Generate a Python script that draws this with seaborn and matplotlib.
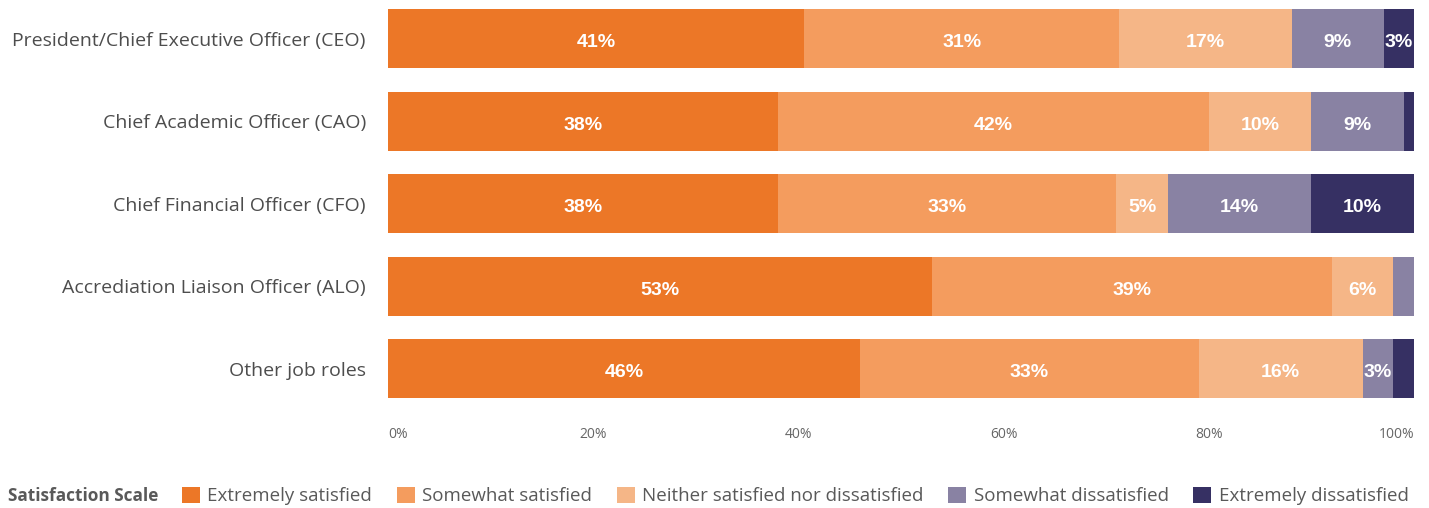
import numpy as np
import pandas as pd
import seaborn as sns
import matplotlib.pyplot as plt
from matplotlib.patches import Patch

roles = ["President/Chief Executive Officer (CEO)", "Chief Academic Officer (CAO)",
         "Chief Financial Officer (CFO)", "Accrediation Liaison Officer (ALO)",
         "Other job roles"]
levels = ["Extremely satisfied", "Somewhat satisfied",
          "Neither satisfied nor dissatisfied", "Somewhat dissatisfied",
          "Extremely dissatisfied"]
extremely_satisfied = [41, 38, 38, 53, 46]
somewhat_satisfied = [31, 42, 33, 39, 33]
neither = [17, 10, 5, 6, 16]
somewhat_dissatisfied = [9, 9, 14, 2, 3]
extremely_dissatisfied = [3, 1, 10, 0, 2]
colors = ["#EC7727", "#F49C5E", "#F5B687", "#8982A3", "#363063"]

df = pd.DataFrame({"Role": roles,
                   levels[0]: extremely_satisfied,
                   levels[1]: somewhat_satisfied,
                   levels[2]: neither,
                   levels[3]: somewhat_dissatisfied,
                   levels[4]: extremely_dissatisfied})
# bars fill the full width, so scale each row to 100
shares = df[levels].div(df[levels].sum(axis=1), axis=0) * 100
cum = shares.cumsum(axis=1)

sns.set_style("white")
plt.rcParams["font.family"] = ["Open Sans", "DejaVu Sans"]

fig = plt.figure(figsize=(14.29, 5.08), dpi=100)
ax = fig.add_axes([388 / 1429, 1 - 410 / 508, 1026 / 1429, 410 / 508])

# draw cumulative totals from the right so the shorter ones overlay
for i in range(len(levels) - 1, -1, -1):
    sns.barplot(x=cum[levels[i]], y=df["Role"], color=colors[i], orient="h",
                width=0.72, saturation=1, linewidth=0, ax=ax)

for r in range(len(roles)):
    left = 0
    for i, lvl in enumerate(levels):
        v = shares.loc[r, lvl]
        if df.loc[r, lvl] >= 3:
            ax.text(left + v / 2, r + 0.05, f"{df.loc[r, lvl]}%", ha="center",
                    va="center", color="white", fontsize=14, fontweight="bold",
                    family="Liberation Sans")
        left += v

ax.set_xlim(0, 100)
ax.set_ylim(4.5, -0.47)
ax.set_xlabel("")
ax.set_ylabel("")
sns.despine(ax=ax, left=True, bottom=True)
ax.set_xticks([0, 20, 40, 60, 80, 100])
ax.set_xticklabels(["0%", "20%", "40%", "60%", "80%", "100%"])
ax.tick_params(axis="x", length=0, pad=12, labelsize=10, labelcolor="#666666")
ax.tick_params(axis="y", length=0, pad=16, labelsize=14, labelcolor="#4d4d4d")
xt = ax.get_xticklabels()
xt[0].set_ha("left")
xt[-1].set_ha("right")

fig.text(158 / 1429, 1 - 496 / 508, "Satisfaction Scale", ha="right", va="center",
         fontsize=12.4, fontweight="bold", color="#595959")
handles = [Patch(facecolor=c, edgecolor="none") for c in colors]
fig.legend(handles, levels, loc="center left", ncol=5, frameon=False,
           bbox_to_anchor=(182 / 1429, 1 - 496 / 508), fontsize=13.5,
           handlelength=0.95, handleheight=0.95, handletextpad=0.4,
           columnspacing=1.32, labelcolor="#595959", borderaxespad=0, borderpad=0)

fig.savefig("out.png", dpi=100)
